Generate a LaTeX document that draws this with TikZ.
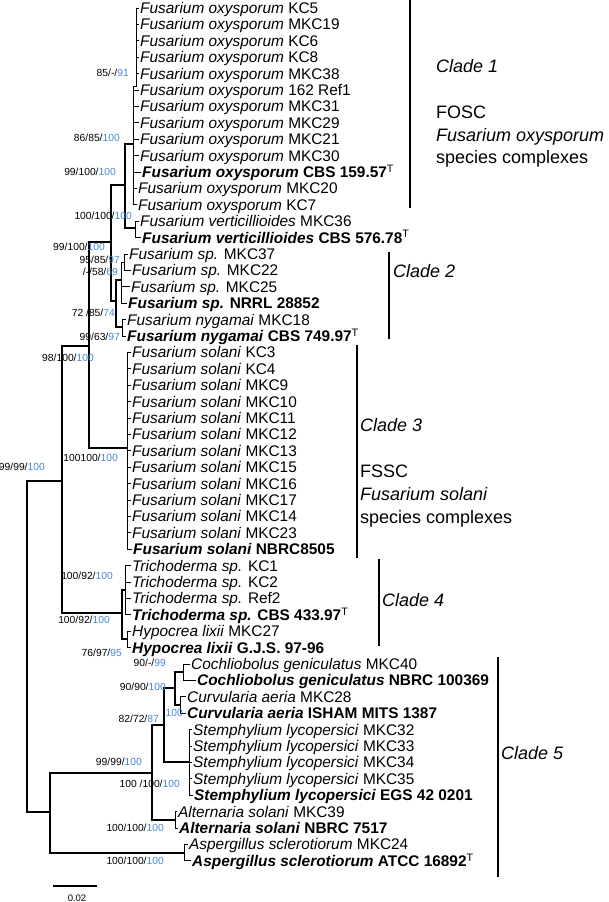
\documentclass[tikz,border=0pt]{standalone}
\usepackage{fontspec}
\setmainfont{Liberation Sans}
\usetikzlibrary{positioning}
\definecolor{bsblue}{RGB}{74,134,214}
\newcommand{\bsv}[1]{{\color{bsblue}#1}}
\newcommand{\typestrain}{\textsuperscript{\mdseries T}}
\newcommand{\sn}[1]{\textit{#1}}
\tikzset{
  leaf/.style={anchor=west, inner xsep=1pt, inner ysep=0pt, text height=10.9pt, text depth=0pt, font=\fontsize{15.4}{16}\selectfont},
  boot/.style={anchor=east, inner sep=0pt, text height=7.4pt, text depth=0pt, font=\fontsize{10.3}{11}\selectfont},
  clade/.style={anchor=west, inner sep=0pt, text height=12.9pt, text depth=0pt, font=\fontsize{18}{20}\selectfont},
  br/.style={line width=1.9pt},
  tip/.style={line width=1pt},
  bar/.style={line width=1.4pt},
}

\begin{document}
\begin{tikzpicture}[x=1pt,y=-1pt]
  \useasboundingbox (0,0) rectangle (609,902);
  %%%%% LEAVES %%%%%
  \node[leaf] (l1) at (139,8) {\sn{Fusarium oxysporum} KC5};
  \node[leaf] (l2) at (139,24.4) {\sn{Fusarium oxysporum} MKC19};
  \node[leaf] (l3) at (139,40.8) {\sn{Fusarium oxysporum} KC6};
  \node[leaf] (l4) at (139,57.2) {\sn{Fusarium oxysporum} KC8};
  \node[leaf] (l5) at (139,73.6) {\sn{Fusarium oxysporum} MKC38};
  \node[leaf] (l6) at (139,90) {\sn{Fusarium oxysporum} 162 Ref1};
  \node[leaf] (l7) at (139,106.4) {\sn{Fusarium oxysporum} MKC31};
  \node[leaf] (l8) at (139,122.8) {\sn{Fusarium oxysporum} MKC29};
  \node[leaf] (l9) at (139,139.2) {\sn{Fusarium oxysporum} MKC21};
  \node[leaf] (l10) at (139,155.6) {\sn{Fusarium oxysporum} MKC30};
  \node[leaf] (l11) at (141,172) {\textbf{\sn{Fusarium oxysporum} CBS 159.57}\typestrain};
  \node[leaf] (l12) at (137,188.4) {\sn{Fusarium oxysporum} MKC20};
  \node[leaf] (l13) at (137,204.8) {\sn{Fusarium oxysporum} KC7};
  \node[leaf] (l14) at (139,221.2) {\sn{Fusarium verticillioides} MKC36};
  \node[leaf] (l15) at (141,237.6) {\textbf{\sn{Fusarium verticillioides} CBS 576.78}\typestrain};
  \node[leaf] (l16) at (128,254) {\sn{Fusarium sp.} MKC37};
  \node[leaf] (l17) at (131,270.4) {\sn{Fusarium sp.} MKC22};
  \node[leaf] (l18) at (130,286.8) {\sn{Fusarium sp.} MKC25};
  \node[leaf] (l19) at (127,303.2) {\textbf{\sn{Fusarium sp.} NRRL 28852}};
  \node[leaf] (l20) at (126,319.6) {\sn{Fusarium nygamai} MKC18};
  \node[leaf] (l21) at (126,336) {\textbf{\sn{Fusarium nygamai} CBS 749.97}\typestrain};
  \node[leaf] (l22) at (131,352.4) {\sn{Fusarium solani} KC3};
  \node[leaf] (l23) at (131,368.8) {\sn{Fusarium solani} KC4};
  \node[leaf] (l24) at (131,385.2) {\sn{Fusarium solani} MKC9};
  \node[leaf] (l25) at (131,401.6) {\sn{Fusarium solani} MKC10};
  \node[leaf] (l26) at (131,418) {\sn{Fusarium solani} MKC11};
  \node[leaf] (l27) at (131,434.4) {\sn{Fusarium solani} MKC12};
  \node[leaf] (l28) at (131,450.8) {\sn{Fusarium solani} MKC13};
  \node[leaf] (l29) at (131,467.2) {\sn{Fusarium solani} MKC15};
  \node[leaf] (l30) at (131,483.6) {\sn{Fusarium solani} MKC16};
  \node[leaf] (l31) at (131,500) {\sn{Fusarium solani} MKC17};
  \node[leaf] (l32) at (131,516.4) {\sn{Fusarium solani} MKC14};
  \node[leaf] (l33) at (131,532.8) {\sn{Fusarium solani} MKC23};
  \node[leaf] (l34) at (132,549.2) {\textbf{\sn{Fusarium solani} NBRC8505}};
  \node[leaf] (l35) at (131,565.6) {\sn{Trichoderma sp.} KC1};
  \node[leaf] (l36) at (131,582) {\sn{Trichoderma sp.} KC2};
  \node[leaf] (l37) at (131,598.4) {\sn{Trichoderma sp.} Ref2};
  \node[leaf] (l38) at (131,614.8) {\textbf{\sn{Trichoderma sp.} CBS 433.97}\typestrain};
  \node[leaf] (l39) at (131,631.2) {\sn{Hypocrea lixii} MKC27};
  \node[leaf] (l40) at (131,647.6) {\textbf{\sn{Hypocrea lixii} G.J.S. 97-96}};
  \node[leaf] (l41) at (190,664) {\sn{Cochliobolus geniculatus} MKC40};
  \node[leaf] (l42) at (196,680.4) {\textbf{\sn{Cochliobolus geniculatus} NBRC 100369}};
  \node[leaf] (l43) at (186,696.8) {\sn{Curvularia aeria} MKC28};
  \node[leaf] (l44) at (186,713.2) {\textbf{\sn{Curvularia aeria} ISHAM MITS 1387}};
  \node[leaf] (l45) at (192,729.6) {\sn{Stemphylium lycopersici} MKC32};
  \node[leaf] (l46) at (192,746) {\sn{Stemphylium lycopersici} MKC33};
  \node[leaf] (l47) at (192,762.4) {\sn{Stemphylium lycopersici} MKC34};
  \node[leaf] (l48) at (192,778.8) {\sn{Stemphylium lycopersici} MKC35};
  \node[leaf] (l49) at (193,795.2) {\textbf{\sn{Stemphylium lycopersici} EGS 42 0201}};
  \node[leaf] (l50) at (177,811.6) {\sn{Alternaria solani} MKC39};
  \node[leaf] (l51) at (178,828) {\textbf{\sn{Alternaria solani} NBRC 7517}};
  \node[leaf] (l52) at (188,844.4) {\sn{Aspergillus sclerotiorum} MKC24};
  \node[leaf] (l53) at (191,860.8) {\textbf{\sn{Aspergillus sclerotiorum} ATCC 16892}\typestrain};

  %%%%% TIPS %%%%%
  \coordinate (x136) at (136,0);
  \coordinate (x133) at (133,0);
  \coordinate (x127) at (127,0);
  \coordinate (x125) at (125,0);
  \coordinate (x189) at (189,0);
  \draw[tip] (l1.west) -| (136,86) -- (133,86);
  \foreach \i in {2,...,5} \draw[tip] (l\i.west) -- (l\i.west -| x136);
  \draw[tip] (133,86) |- (l13.west);
  \foreach \i in {6,...,12} \draw[tip] (l\i.west) -- (l\i.west -| x133);
  \draw[tip] (l14.west) -| (135,237.6) -- (l15.west);
  \draw[tip] (l16.west) -| (124,270.4) -- (l17.west);
  \draw[tip] (124,262) -| (121,303.2) -- (l19.west);
  \draw[tip] (l18.west) -- (121,286.8);
  \draw[tip] (l20.west) -| (122,336) -- (l21.west);
  \draw[tip] (l22.west) -| (127,549.2) -- (l34.west);
  \foreach \i in {23,...,33} \draw[tip] (l\i.west) -- (l\i.west -| x127);
  \draw[tip] (l35.west) -| (125,614.8) -- (l38.west);
  \foreach \i in {36,37} \draw[tip] (l\i.west) -- (l\i.west -| x125);
  \draw[tip] (l39.west) -| (127,647.6) -- (l40.west);
  \draw[tip] (l41.west) -| (183,680.4) -- (l42.west);
  \draw[tip] (l43.west) -| (180,713.2) -- (l44.west);
  \draw[tip] (l45.west) -| (189,795.2) -- (l49.west);
  \foreach \i in {46,47,48} \draw[tip] (l\i.west) -- (l\i.west -| x189);
  \draw[tip] (l50.west) -| (175,828) -- (l51.west);
  \draw[tip] (l52.west) -| (184,860.8) -- (l53.west);

  %%%%% INNER BRANCHES %%%%%
  \draw[br] (62,481) -- (27,481) -- (27,812) -- (50,812);
  \draw[br] (89,346) -- (62,346) -- (62,613) -- (122,613);
  \draw[br] (111,242) -- (89,242) -- (89,448) -- (127,448);
  \draw[br] (125,185) -- (111,185) -- (111,301) -- (116,301);
  \draw[br] (133,144) -- (125,144) -- (125,228) -- (135,228);
  \draw[br] (121,280) -- (116,280) -- (116,327) -- (122,327);
  \draw[br] (125,590) -- (122,590) -- (122,639.4) -- (127,639.4);
  \draw[br] (152,773) -- (50,773) -- (50,852.6) -- (184,852.6);
  \draw[br] (164,725) -- (152,725) -- (152,819.8) -- (175,819.8);
  \draw[br] (175,688) -- (164,688) -- (164,762.4) -- (189,762.4);
  \draw[br] (183,672.2) -- (175,672.2) -- (175,705) -- (180,705);

  %%%%% SUPPORT VALUES %%%%%
  \node[boot] (s1) at (129,73) {85/-/\bsv{91}};
  \node[boot] (s2) at (120,138) {86/85/\bsv{100}};
  \node[boot] (s3) at (116,172) {99/100/\bsv{100}};
  \node[boot] (s4) at (132,216) {100/100/\bsv{100}};
  \node[boot] (s5) at (105,247) {99/100/\bsv{100}};
  \node[boot] (s6) at (120,260) {95/85/\bsv{97}};
  \node[boot] (s7) at (118,272) {/-/58/\bsv{69}};
  \node[boot] (s8) at (115,313) {72 /85/\bsv{74}};
  \node[boot] (s9) at (120,337) {99/63/\bsv{97}};
  \node[boot] (s10) at (94,358) {98/100/\bsv{100}};
  \node[boot] (s11) at (118,458) {100100/\bsv{100}};
  \node[boot] (s12) at (45,467) {99/99/\bsv{100}};
  \node[boot] (s13) at (113,576) {100/92/\bsv{100}};
  \node[boot] (s14) at (110,620) {100/92/\bsv{100}};
  \node[boot] (s15) at (122,653) {76/97/\bsv{95}};
  \node[boot] (s16) at (166,663) {90/-/\bsv{99}};
  \node[boot] (s17) at (166,687) {90/90/\bsv{100}};
  \node[boot] (s18) at (183,713) {\bsv{100}};
  \node[boot] (s19) at (159,719) {82/72/\bsv{87}};
  \node[boot] (s20) at (142,762) {99/99/\bsv{100}};
  \node[boot] (s21) at (180,784) {100 /100/\bsv{100}};
  \node[boot] (s22) at (164,828) {100/100/\bsv{100}};
  \node[boot] (s23) at (164,861) {100/100/\bsv{100}};

  %%%%% CLADES %%%%%
  \draw[bar] (410,0) -- (410,208);
  \node[clade] (c1) at (436,66) {\textit{Clade 1}};
  \node[clade] (c1a) at (436,112) {FOSC};
  \node[clade] (c1b) at (436,135) {\textit{Fusarium oxysporum}};
  \node[clade] (c1c) at (436,157) {species complexes};
  \draw[bar] (389,252) -- (389,339);
  \node[clade] (c2) at (393,271) {\textit{Clade 2}};
  \draw[bar] (357,345) -- (357,558);
  \node[clade] (c3) at (360,425) {\textit{Clade 3}};
  \node[clade] (c3a) at (360,471) {FSSC};
  \node[clade] (c3b) at (360,494) {\textit{Fusarium solani}};
  \node[clade] (c3c) at (360,517) {species complexes};
  \draw[bar] (379,559) -- (379,646);
  \node[clade] (c4) at (382,600) {\textit{Clade 4}};
  \draw[bar] (498,657) -- (498,877);
  \node[clade] (c5) at (501,753) {\textit{Clade 5}};

  %%%%% SCALE %%%%%
  \draw[bar] (53,886) -- (97,886);
  \node[font=\fontsize{9.5}{10}\selectfont, inner sep=0pt] (sc) at (77,898) {0.02};
\end{tikzpicture}
\end{document}
